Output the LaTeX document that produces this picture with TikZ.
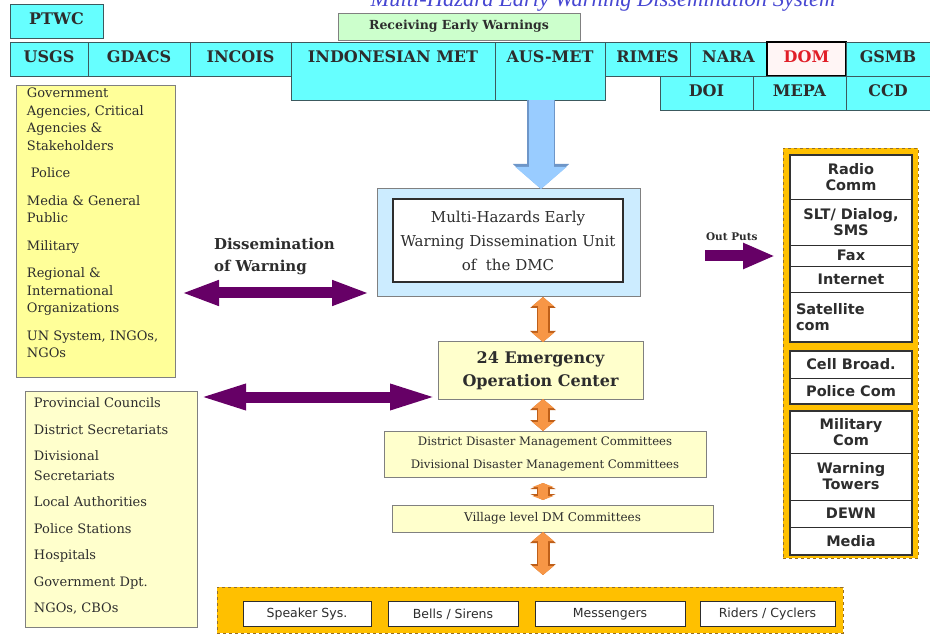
\documentclass[tikz,border=0pt]{standalone}
\usepackage{fontspec}
\setmainfont{DejaVu Serif}
\newfontfamily\sansfont{DejaVu Sans}
\newfontfamily\titlefont{Liberation Serif}
\usetikzlibrary{arrows.meta, positioning, fit}

\definecolor{cyancell}{RGB}{102,255,255}
\definecolor{cellline}{RGB}{60,90,95}
\definecolor{greenbox}{RGB}{204,255,204}
\definecolor{yellowbox}{RGB}{255,255,153}
\definecolor{paleyellow}{RGB}{255,255,204}
\definecolor{paleblue}{RGB}{204,236,255}
\definecolor{arrowblue}{RGB}{153,204,255}
\definecolor{arrowblueline}{RGB}{110,150,200}
\definecolor{darkpurple}{RGB}{102,0,102}
\definecolor{orangefill}{RGB}{247,150,70}
\definecolor{orangeline}{RGB}{190,95,25}
\definecolor{gold}{RGB}{255,192,0}
\definecolor{goldline}{RGB}{150,110,40}
\definecolor{domfill}{RGB}{255,245,245}
\definecolor{domred}{RGB}{225,30,40}
\definecolor{textgray}{RGB}{45,45,45}
\definecolor{titleblue}{RGB}{70,70,210}

\newcommand{\fsz}[2]{\fontsize{#1}{#2}\selectfont}

\tikzset{
  cell/.style={draw=cellline, fill=cyancell, line width=0.8pt, inner xsep=2pt, inner ysep=10pt,
    text height=11pt, text depth=3pt, font=\fsz{16}{18}\bfseries, text=textgray},
  listbox/.style={draw=gray, line width=0.8pt, inner sep=0pt},
  listtext/.style={anchor=north west, align=left, inner sep=0pt, text=textgray},
  stage/.style={draw=gray, fill=paleyellow, line width=1pt, text=textgray},
  outcell/.style={draw=textgray, fill=white, line width=0.6pt, minimum width=122pt, inner sep=1pt,
    font=\sansfont\bfseries\fsz{14.5}{16}, text=textgray},
  grp/.style={draw=black!80, line width=1.4pt, inner sep=0pt},
  btn/.style={draw=textgray, fill=white, line width=1pt, minimum height=25pt,
    font=\sansfont\fsz{12.5}{14}, text=textgray},
  goldbox/.style={draw=goldline, dashed, fill=gold, line width=0.8pt},
  twoway/.style={draw=darkpurple, line width=11pt,
    {Triangle[length=#1,width=23pt]}-{Triangle[length=#1,width=23pt]}},
  oneway/.style={draw=darkpurple, line width=11pt, -{Triangle[length=32pt,width=24pt]}},
  bluearr/.style={draw=arrowblueline, line width=28pt, -{Triangle[length=25pt,width=55pt]},
    postaction={draw=arrowblue, line width=25pt, -{Triangle[length=22pt,width=50pt]}}},
  orangearr/.style={draw=orangeline, line width=13pt,
    {Triangle[length=#1+2pt,width=25pt]}-{Triangle[length=#1+2pt,width=25pt]},
    postaction={draw=orangefill, line width=10pt,
      {Triangle[length=#1,width=21pt]}-{Triangle[length=#1,width=21pt]}}},
  orangearr/.default=9pt
}

\begin{document}
\begin{tikzpicture}[x=1pt, y=-1pt, every node/.style={align=center, outer sep=0pt}]
  \useasboundingbox (0,0) rectangle (930,639);
  \clip (0,0) rectangle (930,639);

  \node[anchor=base, inner sep=0pt, font=\titlefont\itshape\fsz{22.5}{24}, text=titleblue] (title) at (603,7)
    {Multi-Hazard Early Warning Dissemination System};

  \node[cell, anchor=north west, minimum width=93pt] (ptwc) at (10,4) {PTWC};
  \node[draw=gray, fill=greenbox, line width=0.8pt, anchor=north west, minimum width=242pt, minimum height=27pt,
    font=\fsz{12.5}{14}\bfseries, text=textgray] (recv) at (338,13) {Receiving Early Warnings};

  \node[cell, anchor=north west, minimum width=78pt] (usgs) at (10,42) {USGS};
  \node[cell, anchor=north west, minimum width=102pt] (gdacs) at (usgs.north east) {GDACS};
  \node[cell, anchor=north west, minimum width=101pt] (incois) at (gdacs.north east) {INCOIS};
  \node[cell, anchor=north west, minimum width=204pt, text depth=27pt] (indomet) at (incois.north east) {INDONESIAN MET};
  \node[cell, anchor=north west, minimum width=110pt, text depth=27pt] (ausmet) at (indomet.north east) {AUS-MET};
  \node[cell, anchor=north west, minimum width=85pt] (rimes) at (ausmet.north east) {RIMES};
  \node[cell, anchor=north west, minimum width=77pt] (nara) at (rimes.north east) {NARA};
  \node[cell, anchor=north west, minimum width=79pt, fill=domfill, draw=black, line width=1.6pt, text=domred] (dom) at (nara.north east) {DOM};
  \node[cell, anchor=north west, minimum width=84pt] (gsmb) at (dom.north east) {GSMB};
  \node[cell, anchor=north east, minimum width=84pt] (ccd) at (gsmb.south east) {CCD};
  \node[cell, anchor=north east, minimum width=93pt] (mepa) at (ccd.north west) {MEPA};
  \node[cell, anchor=north east, minimum width=93pt] (doi) at (mepa.north west) {DOI};

  \node[listbox, fill=yellowbox, anchor=north west, minimum width=159pt, minimum height=292pt] (govt) at (16,85) {};
  \node[listtext, font=\fsz{13}{17.5}] (govtlist) at ([shift={(11,3)}]govt.north west)
    {Government\\Agencies, Critical\\Agencies \&\\Stakeholders\\[10pt]\hspace*{4pt}Police\\[10pt]Media \& General\\Public\\[10pt]Military\\[10pt]Regional \&\\International\\Organizations\\[10pt]UN System, INGOs,\\NGOs};

  \node[listbox, fill=paleyellow, anchor=north west, minimum width=172pt, minimum height=236pt] (local) at (25,391) {};
  \node[listtext, font=\fsz{13}{19.5}] (locallist) at ([shift={(9,7)}]local.north west)
    {Provincial Councils\\[7pt]District Secretariats\\[7pt]Divisional\\Secretariats\\[7pt]Local Authorities\\[7pt]Police Stations\\[7pt]Hospitals\\[7pt]Government Dpt.\\[7pt]NGOs, CBOs};

  \node[draw=gray, fill=paleblue, line width=1pt, anchor=north west, minimum width=263pt, minimum height=108pt] (mhews) at (377,189) {};
  \node[draw=textgray, fill=white, line width=1.2pt, anchor=north west, minimum width=230pt, minimum height=83pt,
    font=\fsz{15}{24}, text=textgray] (mhewsin) at (393,199) {Multi-Hazards Early\\Warning Dissemination Unit\\of~ the DMC};

  \node[stage, anchor=north west, minimum width=205pt, minimum height=57pt, font=\fsz{16}{23}\bfseries] (eoc) at (438,342) {24 Emergency\\Operation Center};
  \node[stage, anchor=north west, minimum width=322pt, minimum height=46pt, font=\fsz{11.7}{23}] (ddmc) at (384,431)
    {District Disaster Management Committees\\Divisional Disaster Management Committees};
  \node[stage, anchor=north west, minimum width=321pt, minimum height=27pt, font=\fsz{12}{13}] (village) at (392,505) {Village level DM Committees};

  \node[goldbox, anchor=north west, minimum width=626pt, minimum height=46pt] (alerts) at (217,587) {};
  \node[btn, anchor=west, minimum width=128pt] (speaker) at ([shift={(26,4)}]alerts.west) {Speaker Sys.};
  \node[btn, right=17pt of speaker, minimum width=130pt] (bells) {Bells / Sirens};
  \node[btn, right=17pt of bells, minimum width=150pt] (messengers) {Messengers};
  \node[btn, right=15pt of messengers, minimum width=135pt] (riders) {Riders / Cyclers};

  \node[goldbox, anchor=north west, minimum width=135pt, minimum height=410pt] (outs) at (783,148) {};
  \node[outcell, anchor=north west, minimum height=44pt] (radio) at (790,155) {Radio\\Comm};
  \node[outcell, below=0pt of radio, minimum height=46pt] (slt) {SLT/ Dialog,\\SMS};
  \node[outcell, below=0pt of slt, minimum height=21pt] (fax) {Fax};
  \node[outcell, below=0pt of fax, minimum height=26pt] (internet) {Internet};
  \node[outcell, below=0pt of internet, minimum height=50pt, text width=110pt, align=left] (satcom) {Satellite\\com};
  \node[outcell, anchor=north west, minimum height=27pt] (cellb) at (790,351) {Cell Broad.};
  \node[outcell, below=0pt of cellb, minimum height=26pt] (policecom) {Police Com};
  \node[outcell, anchor=north west, minimum height=42pt] (milcom) at (790,411) {Military\\Com};
  \node[outcell, below=0pt of milcom, minimum height=47pt] (towers) {Warning\\Towers};
  \node[outcell, below=0pt of towers, minimum height=27pt] (dewn) {DEWN};
  \node[outcell, below=0pt of dewn, minimum height=28pt] (media) {Media};
  \node[grp, fit=(radio)(satcom)] (grpa) {};
  \node[grp, fit=(cellb)(policecom)] (grpb) {};
  \node[grp, fit=(milcom)(media)] (grpc) {};

  \node[anchor=north west, align=left, inner sep=0pt, font=\fsz{15}{22}\bfseries, text=textgray] (dissem) at (214,238) {Dissemination\\of Warning};
  \node[anchor=base west, inner sep=0pt, font=\fsz{10.5}{12}\bfseries, text=textgray] (outlbl) at (706,241) {Out Puts};

  \draw[bluearr] ([xshift=-9pt]ausmet.south) -- ([xshift=-9pt]ausmet.south |- mhews.north);
  \draw[twoway=38pt] ([xshift=6pt, yshift=4pt]govt.east |- mhews.south) -- ([xshift=-7pt, yshift=4pt]mhews.south west);
  \draw[twoway=48pt] ([xshift=1pt, yshift=2pt]local.east |- eoc.south) -- ([yshift=2pt]eoc.south west);
  \coordinate (outstart) at (705,256);
  \draw[oneway] (outstart) -- ([xshift=-8pt]outs.west |- outstart);

  \coordinate (spine) at (543,0);
  \draw[orangearr] (mhews.south -| spine) -- (eoc.north -| spine);
  \draw[orangearr] (eoc.south -| spine) -- (ddmc.north -| spine);
  \draw[orangearr=4pt] ([yshift=-6pt]ddmc.south -| spine) -- ([yshift=5pt]village.north -| spine);
  \draw[orangearr] (village.south -| spine) -- ([yshift=12pt]alerts.north -| spine);
\end{tikzpicture}
\end{document}
